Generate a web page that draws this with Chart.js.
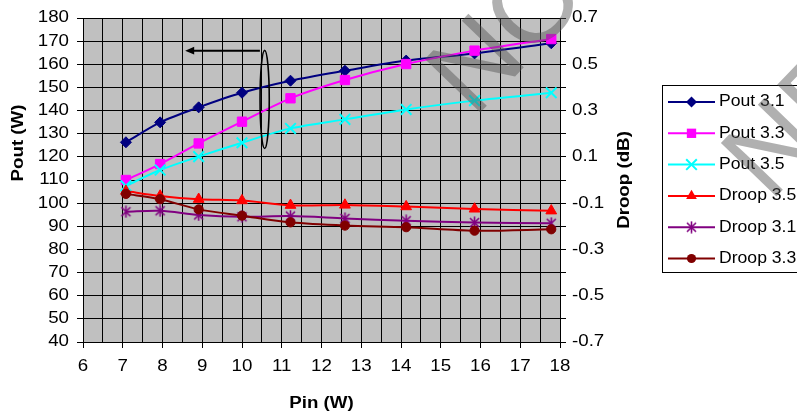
<!DOCTYPE html>
<html><head><meta charset="utf-8">
<script src="https://cdn.jsdelivr.net/npm/chart.js@4.4.1/dist/chart.umd.min.js"></script>
<style>html,body{margin:0;padding:0;background:#fff;overflow:hidden}#wrap{width:797px;height:414px}canvas{display:block}</style>
</head><body><div id="wrap"><canvas id="c" width="797" height="414"></canvas></div>
<script>
// ---- data ----
const pin = [7.08, 7.94, 8.91, 10.0, 11.22, 12.59, 14.13, 15.85, 17.78];
const pout31 = [126.3, 134.9, 141.4, 147.7, 152.9, 157.2, 161.6, 164.7, 169.1];
const pout33 = [110.0, 116.9, 125.8, 135.2, 145.3, 153.2, 160.1, 165.9, 170.9];
const pout35 = [107.5, 114.3, 120.1, 126.1, 132.3, 136.2, 140.5, 144.3, 147.7];
const droop35 = [-0.048, -0.069, -0.083, -0.089, -0.109, -0.108, -0.115, -0.125, -0.133];
const droop31 = [-0.137, -0.133, -0.151, -0.159, -0.156, -0.166, -0.176, -0.184, -0.187];
const droop33 = [-0.060, -0.083, -0.127, -0.154, -0.183, -0.197, -0.204, -0.219, -0.213];
const seriesNames = ['Pout 3.1', 'Pout 3.3', 'Pout 3.5', 'Droop 3.5', 'Droop 3.1', 'Droop 3.3'];
const xTicks = [6, 7, 8, 9, 10, 11, 12, 13, 14, 15, 16, 17, 18];
const yLeftTicks = [40, 50, 60, 70, 80, 90, 100, 110, 120, 130, 140, 150, 160, 170, 180];
const yRightTicks = ['0.7', '0.5', '0.3', '0.1', '-0.1', '-0.3', '-0.5', '-0.7'];
const xTitle = 'Pin (W)', yLeftTitle = 'Pout (W)', yRightTitle = 'Droop (dB)';
const watermark = ['NOT RECOMMENDED', 'NEW DESIGNS'];

// ---- styles ----
const FONT = '"Liberation Sans", Arial, sans-serif';
const SX = 1.17;
function starImg(color) {
  const c = document.createElement('canvas'); c.width = 13; c.height = 13;
  const g = c.getContext('2d'); g.strokeStyle = color; g.lineWidth = 1.6;
  g.beginPath(); g.moveTo(2, 2); g.lineTo(11, 11); g.moveTo(11, 2); g.lineTo(2, 11);
  g.moveTo(6.5, 0.5); g.lineTo(6.5, 12.5); g.stroke(); return c;
}
const styles = [
  {color: '#000080', point: 'rectRot', r: 5.5, axis: 'y'},
  {color: '#FF00FF', point: 'rect', r: 6.6, axis: 'y'},
  {color: '#00FFFF', point: 'crossRot', r: 7.5, axis: 'y'},
  {color: '#FF0000', point: 'triangle', r: 6.2, axis: 'y2'},
  {color: '#800080', point: starImg('#800080'), r: 6, axis: 'y2'},
  {color: '#800000', point: 'circle', r: 4.6, axis: 'y2'}
];
const values = [pout31, pout33, pout35, droop35, droop31, droop33];

const datasets = values.map((v, i) => ({
  label: seriesNames[i],
  data: v.map((y, j) => ({x: pin[j], y})),
  yAxisID: styles[i].axis,
  borderColor: styles[i].color,
  backgroundColor: styles[i].color,
  borderWidth: 2,
  pointStyle: styles[i].point,
  pointRadius: styles[i].r,
  pointBorderWidth: styles[i].point === 'crossRot' ? 2 : 1,
  pointBorderColor: styles[i].color,
  pointBackgroundColor: styles[i].color,
  tension: 0.3,
  fill: false,
  order: -i
}));

function txt(ctx, s, x, y, o = {}) {
  ctx.save(); ctx.translate(x, y); if (o.rot) ctx.rotate(o.rot); ctx.scale(o.sx || SX, 1);
  ctx.font = (o.bold ? 'bold ' : '') + (o.size || 16) + 'px ' + FONT;
  ctx.textAlign = o.align || 'center'; ctx.textBaseline = 'middle'; ctx.fillStyle = '#000';
  ctx.fillText(s, 0, 0); ctx.restore();
}

function legendMarker(ctx, st, x, y) {
  ctx.save(); ctx.fillStyle = st.color; ctx.strokeStyle = st.color; ctx.lineWidth = 1;
  const r = st.r; ctx.beginPath();
  if (typeof st.point !== 'string') { ctx.drawImage(st.point, x - st.point.width / 2, y - st.point.height / 2); ctx.restore(); return; }
  switch (st.point) {
    case 'rectRot': ctx.moveTo(x - r, y); ctx.lineTo(x, y - r); ctx.lineTo(x + r, y); ctx.lineTo(x, y + r); ctx.closePath(); ctx.fill(); break;
    case 'rect': { const h = r * Math.SQRT1_2; ctx.rect(x - h, y - h, 2 * h, 2 * h); ctx.fill(); break; }
    case 'crossRot': { const h = r * Math.SQRT1_2; ctx.lineWidth = 2; ctx.moveTo(x - h, y - h); ctx.lineTo(x + h, y + h); ctx.moveTo(x + h, y - h); ctx.lineTo(x - h, y + h); ctx.stroke(); break; }
    case 'triangle': ctx.moveTo(x, y - r); ctx.lineTo(x + r * 0.866, y + r * 0.5); ctx.lineTo(x - r * 0.866, y + r * 0.5); ctx.closePath(); ctx.fill(); break;
    case 'circle': ctx.arc(x, y, r, 0, Math.PI * 2); ctx.fill(); break;
  }
  ctx.restore();
}

// annotation in data units
const arrowAnn = {x1: 10.45, x2: 8.57, y: 165.9};
const ellipseAnn = {x: 10.57, y: 144.8, yHalf: 21.2, rxPx: 4.6};

const decor = {
  id: 'decor',
  beforeDraw(chart) {
    const {ctx, chartArea: a} = chart;
    ctx.save(); ctx.fillStyle = '#fff'; ctx.fillRect(0, 0, chart.width, chart.height);
    ctx.fillStyle = '#C0C0C0'; ctx.fillRect(a.left, a.top, a.right - a.left, a.bottom - a.top); ctx.restore();
  },
  afterDraw(chart) {
    const {ctx, chartArea: a, scales} = chart;
    const xs = scales.x, yl = scales.y, yr = scales.y2;
    // tick labels
    xTicks.forEach(v => txt(ctx, String(v), xs.getPixelForValue(v), 367));
    yLeftTicks.forEach(v => txt(ctx, String(v), 69, yl.getPixelForValue(v), {align: 'right'}));
    yRightTicks.forEach(v => txt(ctx, v, 572, yr.getPixelForValue(parseFloat(v)), {align: 'left'}));
    // titles
    txt(ctx, xTitle, (a.left + a.right) / 2, 404, {bold: true});
    txt(ctx, yLeftTitle, 18.5, 143, {bold: true, rot: -Math.PI / 2});
    txt(ctx, yRightTitle, 625, (a.top + a.bottom) / 2, {bold: true, rot: -Math.PI / 2});
    // arrow + ellipse
    ctx.save(); ctx.strokeStyle = '#000'; ctx.fillStyle = '#000'; ctx.lineWidth = 2;
    const ax1 = xs.getPixelForValue(arrowAnn.x1), ax2 = xs.getPixelForValue(arrowAnn.x2), ay = yl.getPixelForValue(arrowAnn.y);
    ctx.beginPath(); ctx.moveTo(ax1, ay); ctx.lineTo(ax2 + 7, ay); ctx.stroke();
    ctx.beginPath(); ctx.moveTo(ax2, ay); ctx.lineTo(ax2 + 9, ay - 3.8); ctx.lineTo(ax2 + 9, ay + 3.8); ctx.closePath(); ctx.fill();
    const ex = xs.getPixelForValue(ellipseAnn.x), ey = yl.getPixelForValue(ellipseAnn.y);
    const ery = Math.abs(yl.getPixelForValue(ellipseAnn.y + ellipseAnn.yHalf) - ey);
    ctx.lineWidth = 1.6; ctx.beginPath(); ctx.ellipse(ex, ey, ellipseAnn.rxPx, ery, 0, 0, Math.PI * 2); ctx.stroke();
    ctx.restore();
    // legend
    ctx.save(); ctx.strokeStyle = '#000'; ctx.lineWidth = 1; ctx.strokeRect(662.5, 85.5, 150, 187); ctx.restore();
    seriesNames.forEach((n, i) => {
      const y = 102 + i * 31.3, st = styles[i];
      ctx.save(); ctx.strokeStyle = st.color; ctx.lineWidth = 2; ctx.beginPath(); ctx.moveTo(668, y); ctx.lineTo(715, y); ctx.stroke(); ctx.restore();
      legendMarker(ctx, st, 691.5, y);
      txt(ctx, n, 719, y, {align: 'left', sx: 1.1});
    });
    // watermark
    ctx.save(); ctx.fillStyle = 'rgba(80,80,80,0.45)'; ctx.font = '112px ' + FONT;
    ctx.textAlign = 'left'; ctx.textBaseline = 'alphabetic';
    [[474, 119], [770, 203]].forEach((p, i) => {
      ctx.save(); ctx.translate(p[0], p[1]); ctx.rotate(-46 * Math.PI / 180); ctx.fillText(watermark[i], 0, 0); ctx.restore();
    });
    ctx.restore();
  }
};

new Chart(document.getElementById('c'), {
  type: 'line',
  data: {datasets},
  plugins: [decor],
  options: {
    responsive: false, animation: false, devicePixelRatio: 1,
    layout: {padding: {top: 18, left: 0, right: 0, bottom: 0}},
    plugins: {legend: {display: false}, tooltip: {enabled: false}},
    scales: {
      x: {
        type: 'linear', min: 6, max: 18,
        ticks: {display: false, stepSize: 0.5},
        grid: {color: '#000', lineWidth: 1, tickLength: 6, drawTicks: true,
               tickColor: c => (Math.abs(c.tick.value % 1) < 1e-6 ? '#000' : 'rgba(0,0,0,0)')},
        border: {display: true, color: '#000', width: 1},
        afterFit: s => { s.height = 72; }
      },
      y: {
        type: 'linear', position: 'left', min: 40, max: 180,
        ticks: {display: false, stepSize: 10},
        grid: {color: '#000', lineWidth: 1, tickLength: 6, tickColor: '#000'},
        border: {display: true, color: '#000', width: 1},
        afterFit: s => { s.width = 83; }
      },
      y2: {
        type: 'linear', position: 'right', min: -0.7, max: 0.7,
        ticks: {display: false, stepSize: 0.1},
        grid: {drawOnChartArea: false, color: '#000', tickLength: 6, tickColor: '#000'},
        border: {display: true, color: '#000', width: 1},
        afterFit: s => { s.width = 237; }
      }
    }
  }
});
</script></body></html>
